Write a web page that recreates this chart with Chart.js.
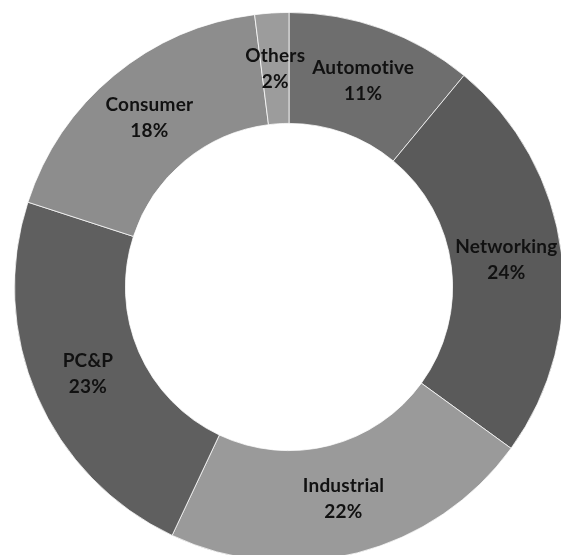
<!DOCTYPE html>
<html>
<head>
<meta charset="utf-8">
<script src="https://cdn.jsdelivr.net/npm/chart.js@4.4.1/dist/chart.umd.min.js"></script>
<style>
  html, body { margin: 0; padding: 0; background: #fff; overflow: hidden; width: 561px; height: 555px; }
  #wrap { position: absolute; left: 14px; top: 12px; width: 550px; height: 550px; }
</style>
</head>
<body>
<div id="wrap"><canvas id="segment-chart" width="550" height="550"></canvas></div>
<script>
// segments, clockwise from 12 o'clock
var segments = ['Automotive', 'Networking', 'Industrial', 'PC&P', 'Consumer', 'Others'];
var shares = [11, 24, 22, 23, 18, 2];

var sliceColors = ['#6e6e6e', '#5a5a5a', '#9a9a9a', '#5f5f5f', '#8d8d8d', '#9c9c9c'];

// draw "name / xx%" in the middle of each ring piece
var sliceLabels = {
  id: 'sliceLabels',
  afterDatasetsDraw: function(chart) {
    var ctx = chart.ctx;
    var meta = chart.getDatasetMeta(0);
    ctx.save();
    ctx.font = 'bold 19px Lato, sans-serif';
    ctx.letterSpacing = '0.2px'; // stops the "ti" ligature
    ctx.fillStyle = '#111';
    ctx.textAlign = 'center';
    ctx.textBaseline = 'middle';
    meta.data.forEach(function(arc, i) {
      var p = arc.getCenterPoint();
      ctx.fillText(chart.data.labels[i], p.x, p.y - 13);
      ctx.fillText(chart.data.datasets[0].data[i] + '%', p.x, p.y + 13);
    });
    ctx.restore();
  }
};

var segmentCanvas = document.getElementById('segment-chart').getContext('2d');
var segmentChart = new Chart(segmentCanvas, {
  type: 'doughnut',
  data: {
    labels: segments,
    datasets: [{
      data: shares,
      backgroundColor: sliceColors,
      borderColor: 'rgba(255,255,255,0.75)',
      borderWidth: 1
    }]
  },
  options: {
    responsive: false,
    animation: false,
    cutout: '59.6%',
    layout: { padding: 0 },
    plugins: {
      legend: { display: false },
      tooltip: { enabled: false }
    }
  },
  plugins: [sliceLabels]
});
</script>
</body>
</html>
